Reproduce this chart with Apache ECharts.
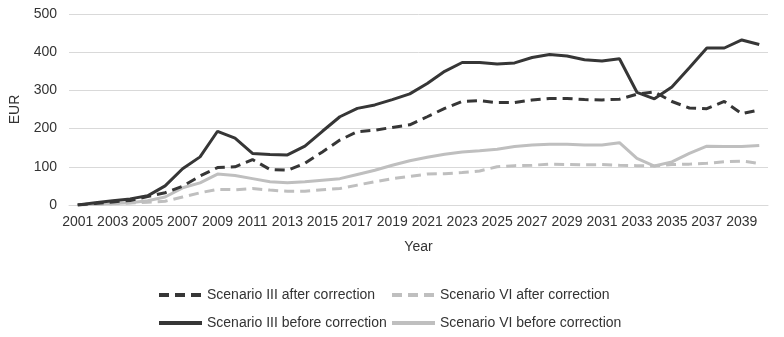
<!DOCTYPE html>
<html>
<head>
<meta charset="utf-8">
<script src="https://cdn.jsdelivr.net/npm/echarts@6/dist/echarts.min.js"></script>
<style>html,body{margin:0;padding:0;background:#fff}#c{width:784px;height:337px}</style>
</head>
<body>
<div id="c"></div>
<script>
const years = [];
for (let y = 2001; y <= 2040; y++) years.push(String(y));

const seriesNames = [
  'Scenario III after correction',
  'Scenario VI after correction',
  'Scenario III before correction',
  'Scenario VI before correction'
];

const scen3After = [0,4,8,12,22,32,49,76,98,100,119,93,91,109,139,170,192,196,203,210,231,253,271,273,268,268,275,279,279,276,275,277,290,296,271,254,252,271,239,249];
const scen6After = [0,2,3,5,7,10,21,32,41,40,43,39,36,36,40,43,52,61,69,75,81,82,85,89,100,103,104,107,106,105,106,104,103,102,106,107,109,113,115,109];
const scen3Before = [0,6,11,16,24,50,95,126,193,175,135,132,131,154,193,231,253,262,276,291,318,350,373,373,369,372,386,394,390,380,377,383,295,278,309,359,411,411,432,420];
const scen6Before = [0,2,4,6,11,21,45,58,81,77,69,61,58,61,65,69,80,91,104,116,125,133,139,142,146,153,157,159,159,157,157,163,122,102,113,135,154,153,153,156];

const yTicks = [0,100,200,300,400,500];

const dark = '#363636', grey = '#bfbfbf';
const font = 'Liberation Sans';
const txt = '#333333';

function mk(name, data, color, dashed) {
  return {
    name: name, type: 'line', data: data, symbol: 'none', smooth: false,
    lineStyle: { color: color, width: 3, type: dashed ? [10, 6] : 'solid', cap: 'butt' },
    itemStyle: { color: color },
    emphasis: { disabled: true }, animation: false
  };
}

function leg(name, left, top) {
  return {
    data: [name], left: left, top: top, padding: 0, itemWidth: 43, itemHeight: 14,
    itemStyle: { opacity: 0, borderWidth: 0 },
    lineStyle: { width: 4 },
    textStyle: { fontFamily: font, fontSize: 14, color: txt }
  };
}

const chart = echarts.init(document.getElementById('c'));
chart.setOption({
  animation: false,
  grid: { left: 64, right: 16, top: 14, bottom: 132 },
  legend: [
    leg(seriesNames[0], 157, 288),
    leg(seriesNames[1], 390, 288),
    leg(seriesNames[2], 157, 316),
    leg(seriesNames[3], 390, 316)
  ],
  xAxis: {
    type: 'category', data: years, boundaryGap: true,
    name: 'Year', nameLocation: 'middle', nameGap: 35,
    nameTextStyle: { fontFamily: font, fontSize: 14, color: txt },
    axisLine: { show: true, lineStyle: { color: '#d9d9d9', width: 1 } },
    axisTick: { show: false },
    axisLabel: { interval: 1, margin: 10, fontFamily: font, fontSize: 14, color: txt }
  },
  yAxis: {
    type: 'value', min: yTicks[0], max: yTicks[yTicks.length - 1], interval: 100,
    name: 'EUR', nameLocation: 'middle', nameGap: 47,
    nameTextStyle: { fontFamily: font, fontSize: 14, color: txt },
    axisLine: { show: false }, axisTick: { show: false },
    axisLabel: { margin: 12, fontFamily: font, fontSize: 14, color: txt },
    splitLine: { lineStyle: { color: '#d9d9d9', width: 1 } }
  },
  series: [
    mk(seriesNames[1], scen6After, grey, true),
    mk(seriesNames[3], scen6Before, grey, false),
    mk(seriesNames[0], scen3After, dark, true),
    mk(seriesNames[2], scen3Before, dark, false)
  ]
});
</script>
</body>
</html>
